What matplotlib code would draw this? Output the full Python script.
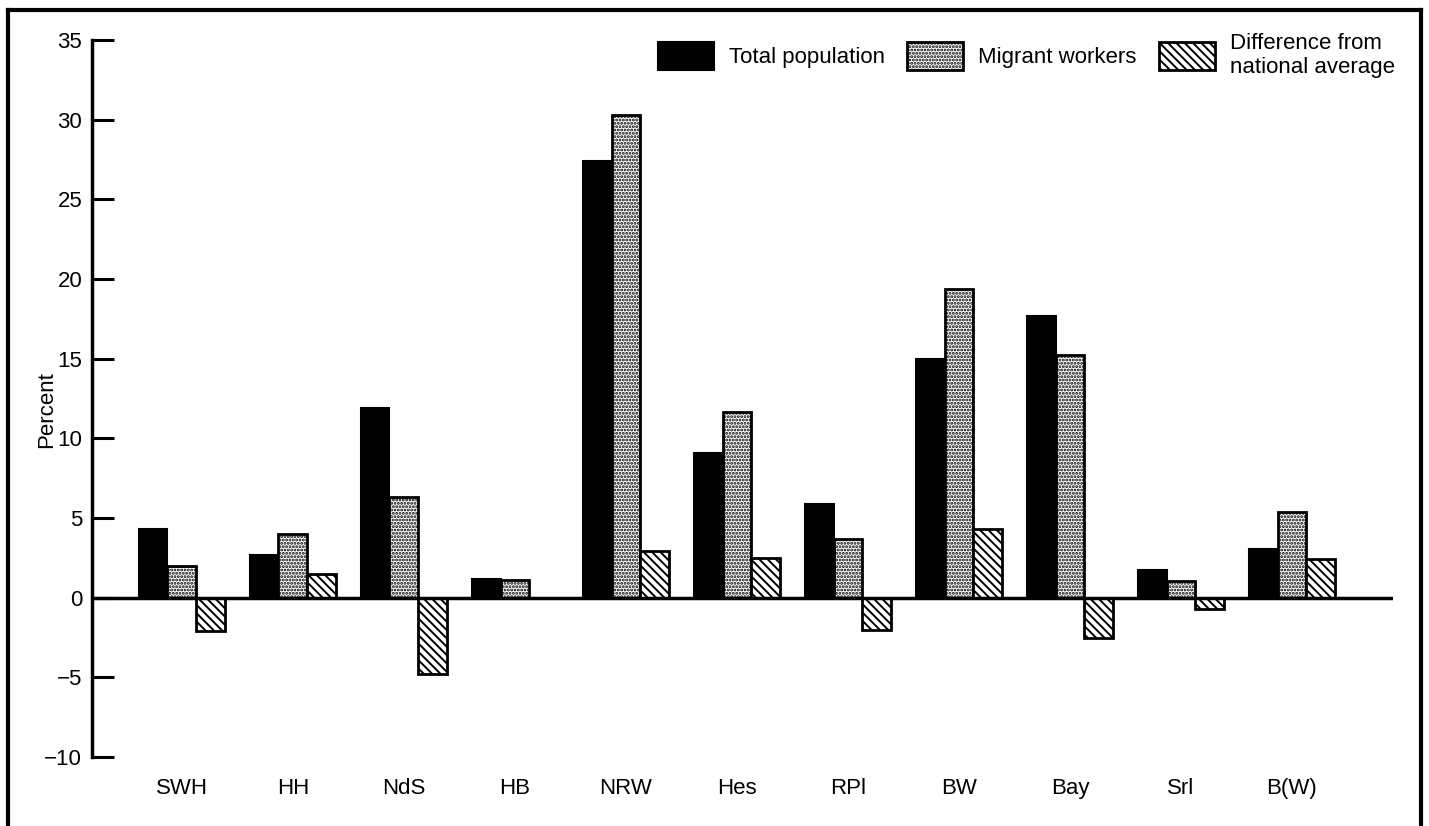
import numpy as np
import matplotlib
matplotlib.use("Agg")
import matplotlib.pyplot as plt
from matplotlib.lines import Line2D

plt.rcParams['font.family'] = ['Liberation Sans', 'DejaVu Sans']
plt.rcParams['hatch.linewidth'] = 1.4

# laender
regions = ['SWH', 'HH', 'NdS', 'HB', 'NRW', 'Hes', 'RPl', 'BW', 'Bay', 'Srl', 'B(W)']
# values (percent)
total_pop = [4.3, 2.7, 11.9, 1.2, 27.4, 9.1, 5.9, 15.0, 17.7, 1.75, 3.05]
migrants = [2.0, 4.0, 6.3, 1.1, 30.3, 11.65, 3.7, 19.4, 15.2, 1.05, 5.4]
difference = [-2.1, 1.5, -4.8, 0.0, 2.95, 2.5, -2.0, 4.3, -2.5, -0.7, 2.45]

yticks = [-10, -5, 0, 5, 10, 15, 20, 25, 30, 35]

fig = plt.figure(figsize=(14.29, 8.26), dpi=100)
ax = fig.add_axes([92/1429, 1-757/826, 1301/1429, 717/826])

x = np.arange(len(regions))
w = 0.26

ax.bar(x - w, total_pop, w, color='black', edgecolor='black', linewidth=1.5,
       label='Total population')
ax.bar(x, migrants, w, color='white', edgecolor='black', linewidth=2,
       hatch='.....', label='Migrant workers')
ax.bar(x + w, difference, w, color='white', edgecolor='black', linewidth=2,
       hatch='\\\\\\\\', label='Difference from\nnational average')

ax.axhline(0, color='black', lw=2.5, zorder=5)

ax.set_xlim(-0.81, 10.91)
ax.set_ylim(-10, 35)
ax.set_yticks(yticks)
ax.set_yticklabels([str(t).replace('-', '\u2212') for t in yticks])
ax.set_xticks(x)
ax.set_xticklabels(regions)

for s in ['top', 'right', 'bottom']:
    ax.spines[s].set_visible(False)
ax.spines['left'].set_linewidth(2.5)
ax.tick_params(axis='y', direction='in', length=16, width=2.2, pad=7, labelsize=16)
ax.tick_params(axis='x', length=0, pad=15, labelsize=16)

ax.set_ylabel('Percent', fontsize=16)
ax.yaxis.set_label_coords(-0.027, 0.484)

ax.legend(loc='upper right', bbox_to_anchor=(1404/1429, 1-24/826),
          bbox_transform=fig.transFigure, ncol=3, frameon=False, fontsize=16,
          handlelength=2.5, handleheight=1.6, handletextpad=0.7,
          columnspacing=1.0, borderaxespad=0, labelspacing=0.2)

# ramka wokol rysunku (bez dolu)
fig.add_artist(Line2D([8/1429, 8/1429], [0, 1-10/826], transform=fig.transFigure, color='black', lw=3))
fig.add_artist(Line2D([8/1429, 1421/1429], [1-10/826, 1-10/826], transform=fig.transFigure, color='black', lw=3))
fig.add_artist(Line2D([1421/1429, 1421/1429], [0, 1-10/826], transform=fig.transFigure, color='black', lw=3))

fig.savefig('out.png', dpi=100)
